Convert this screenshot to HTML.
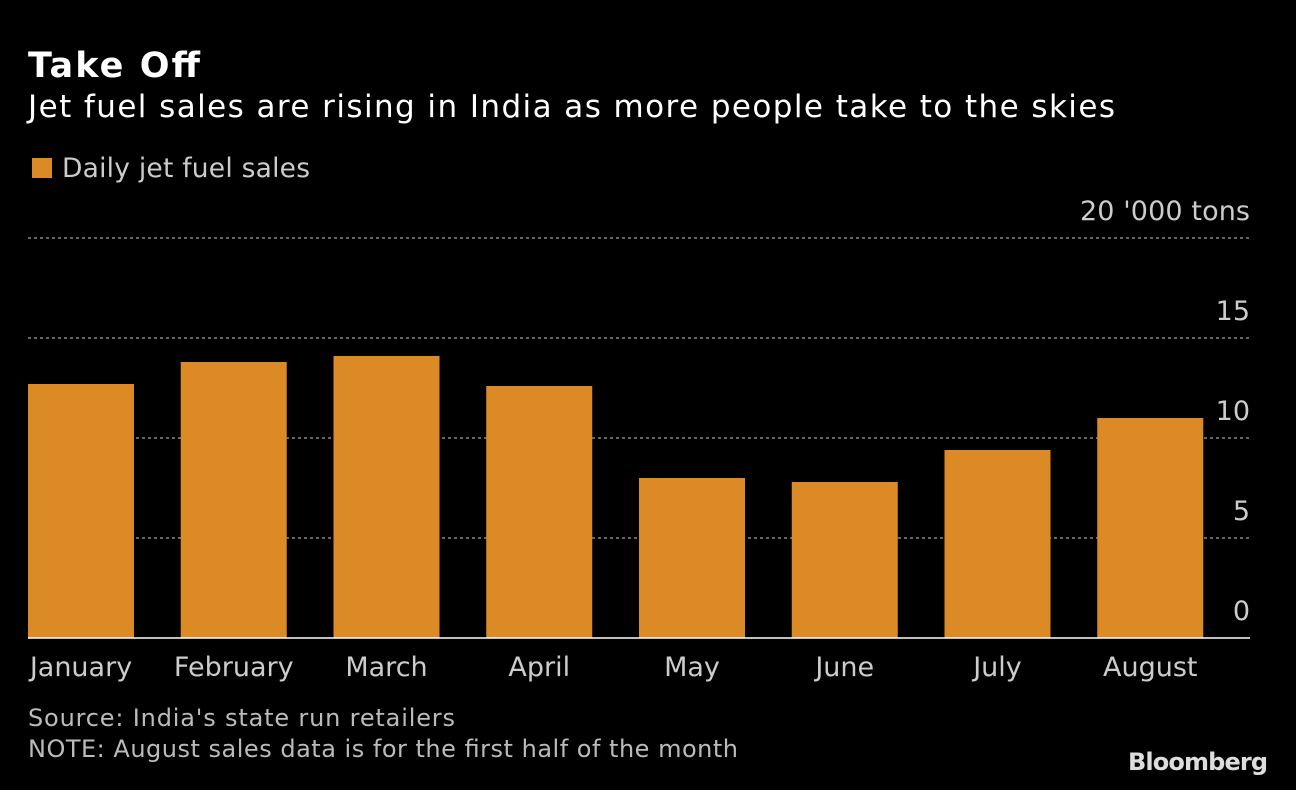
<!DOCTYPE html>
<html><head><meta charset="utf-8"><style>
html,body{margin:0;padding:0;background:#000;}
body{width:1296px;height:786px;overflow:hidden;font-family:"DejaVu Sans",sans-serif;}
</style></head><body>
<svg width="1296" height="786" font-family="DejaVu Sans, sans-serif">
<text x="28" y="77" fill="#fff" font-size="35" font-weight="bold" textLength="172">Take Off</text>
<text x="28" y="117" fill="#fff" font-size="31" textLength="1087">Jet fuel sales are rising in India as more people take to the skies</text>
<rect x="32" y="158" width="20" height="20" fill="#dc8a26"/>
<text x="62" y="177" fill="#ccc" font-size="26.5" textLength="248">Daily jet fuel sales</text>
<g id="grid"></g>
<g id="bars"></g>
<g id="xlabels"></g>
<line x1="28" x2="1250" y1="638" y2="638" stroke="#fff" stroke-width="1.5"/>
<text x="28" y="726" fill="#bbb" font-size="24" textLength="427">Source: India's state run retailers</text>
<text x="28" y="757" fill="#bbb" font-size="24" textLength="710">NOTE: August sales data is for the first half of the month</text>
<text x="1268" y="770" fill="#ddd" font-size="24" font-weight="bold" text-anchor="end" textLength="140">Bloomberg</text>
</svg>
<script>
const categories=["January","February","March","April","May","June","July","August"];
const values=[12.7,13.8,14.1,12.6,8.0,7.8,9.4,11.0];
const ticks=[0,5,10,15,20];
const tickLabels=["0","5","10","15","20 '000 tons"];
const NS="http://www.w3.org/2000/svg";
const x0=28,x1=1250,y0=638,y1=238,ymax=20;
const band=(x1-x0)/categories.length,bw=106;
const y=v=>y0-(v/ymax)*(y0-y1);
const xb=i=>x0+i*band;
const grid=document.getElementById('grid'),bars=document.getElementById('bars'),xl=document.getElementById('xlabels');
ticks.forEach((t,i)=>{
 if(t>0){const l=document.createElementNS(NS,'line');
 l.setAttribute('x1',x0);l.setAttribute('x2',x1);l.setAttribute('y1',y(t));l.setAttribute('y2',y(t));
 l.setAttribute('stroke','#888');l.setAttribute('stroke-dasharray','3,3');l.setAttribute('stroke-width','1.5');
 
 
 grid.appendChild(l);}
 const tx=document.createElementNS(NS,'text');
 tx.setAttribute('x',x1);tx.setAttribute('y',y(t)-18);tx.setAttribute('text-anchor','end');
 tx.setAttribute('fill','#ccc');tx.setAttribute('font-size','27');tx.textContent=tickLabels[i];
 if(i===4){tx.setAttribute('textLength','170');}
 
 
 grid.appendChild(tx);
});
categories.forEach((c,i)=>{
 const r=document.createElementNS(NS,'rect');
 r.setAttribute('x',xb(i));r.setAttribute('width',bw);r.setAttribute('y',y(values[i]));r.setAttribute('height',y0-y(values[i]));
 r.setAttribute('fill','#dc8a26');
 
 
 bars.appendChild(r);
 const t=document.createElementNS(NS,'text');
 t.setAttribute('x',xb(i)+bw/2);t.setAttribute('y',676);t.setAttribute('text-anchor','middle');
 t.setAttribute('fill','#ccc');t.setAttribute('font-size','27');t.textContent=c;
 
 
 xl.appendChild(t);
});
</script>
</body></html>
